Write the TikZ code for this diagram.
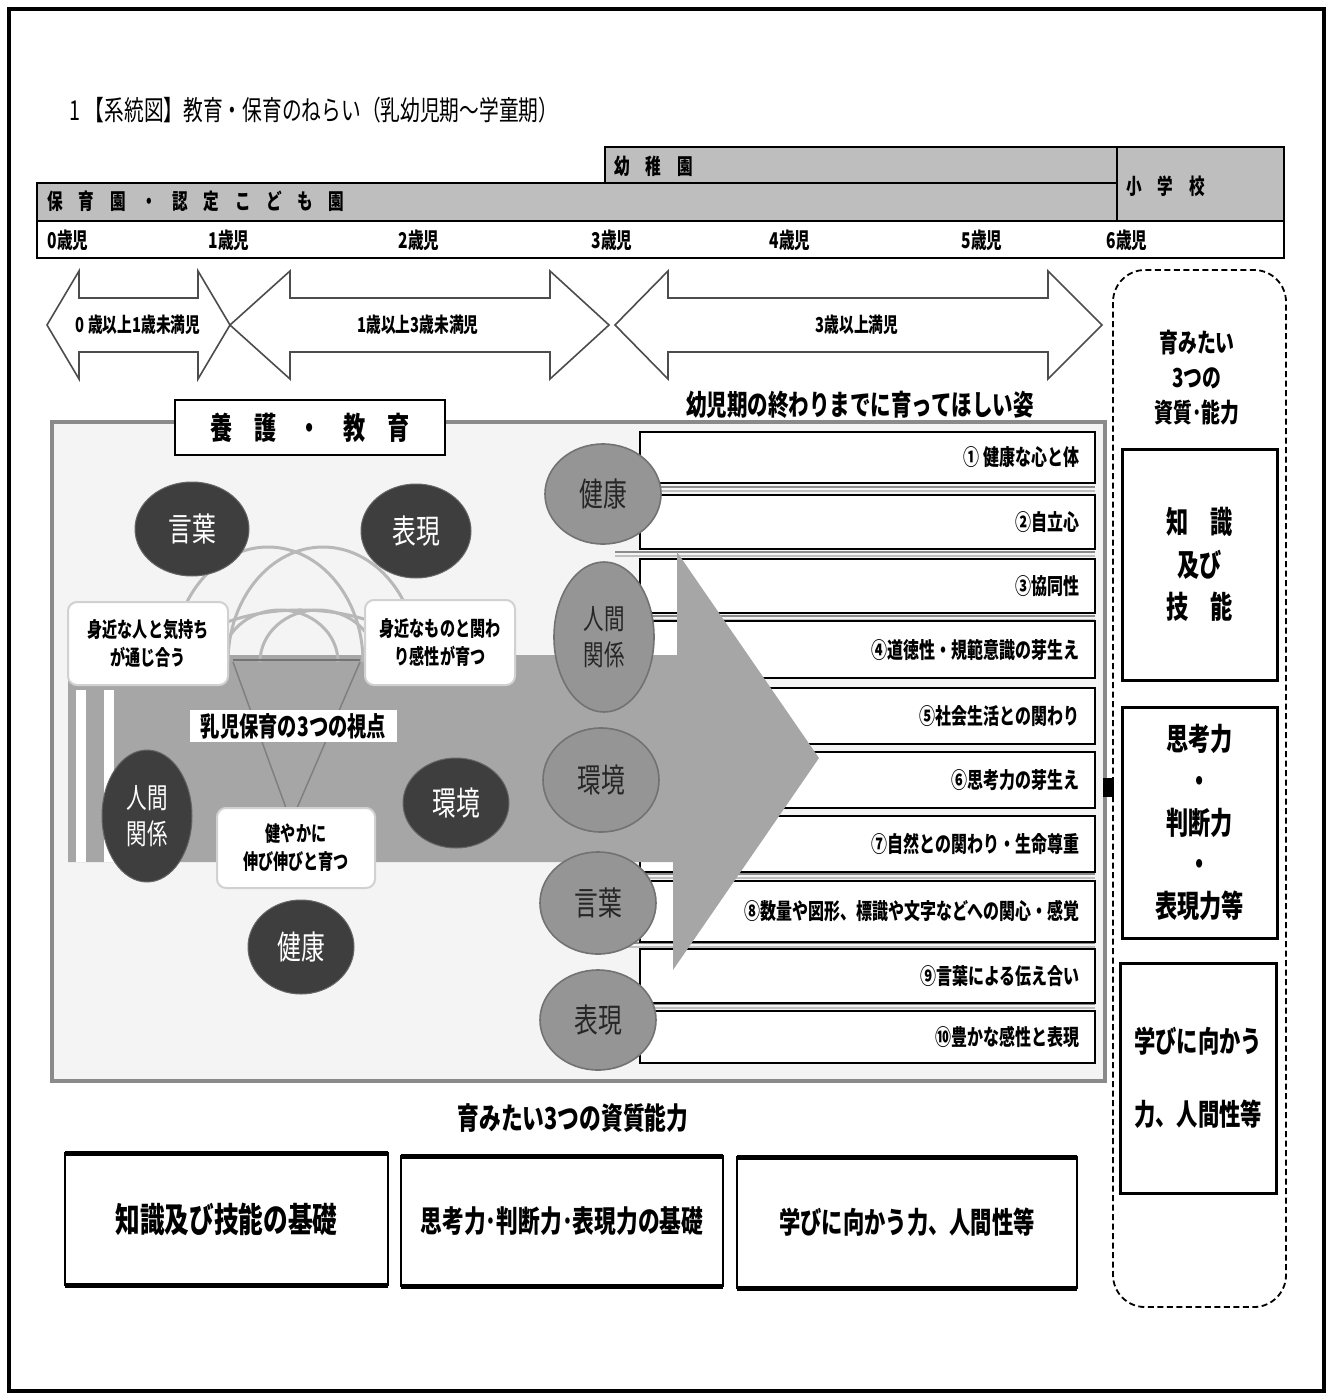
\documentclass[tikz,border=0pt]{standalone}
\usepackage{fontspec}
\newfontfamily\jp[FakeStretch=0.72]{Noto Sans CJK JP}
\newcommand\fsz[2]{\fontsize{#1}{#2}\selectfont}
\definecolor{bargray}{HTML}{BEBEBE}
\definecolor{bandgray}{HTML}{A6A6A6}
\definecolor{rcfill}{HTML}{959595}
\definecolor{rcline}{HTML}{727272}
\definecolor{lcfill}{HTML}{3E3E3E}
\definecolor{panelbg}{HTML}{F4F4F4}
\definecolor{panelline}{HTML}{8A8A8A}
\definecolor{arcgray}{HTML}{B8B8B8}
\usetikzlibrary{shapes.geometric}
\tikzset{
  barbox/.style={fill=bargray, draw=black, line width=1.8},
  dblarrow/.style={fill=white, draw=black!70, line width=1.6, line join=miter},
  listbox/.style={fill=white, draw=black, line width=2.6},
  listtxt/.style={anchor=east, font=\jp\bfseries\fsz{22.2}{25}},
  rcirc/.style={ellipse, fill=rcfill, draw=rcline, line width=1.6, inner sep=0pt, text=black!85, font=\jp\fsz{33}{36}, align=center},
  lcirc/.style={ellipse, fill=lcfill, draw=black!60, line width=1, inner sep=0pt, text=white, font=\jp\fsz{33}{36}, align=center},
  wbox/.style={fill=white, draw=black!18, line width=2, rounded corners=9, inner sep=0pt, font=\jp\bfseries\fsz{21}{28}, align=center},
  capbox/.style={fill=white, draw=black, line width=3},
  captxt/.style={font=\jp\bfseries\fsz{30.8}{42.5}, align=center},
  btmbox/.style={fill=white, draw=black, line width=2.4},
  btmtxt/.style={font=\jp\bfseries\fsz{32}{36}},
  agetxt/.style={anchor=west, font=\jp\bfseries\fsz{21.7}{24}},
  bartxt/.style={anchor=west, font=\jp\bfseries\fsz{21.7}{24}},
  arrtxt/.style={font=\jp\bfseries\fsz{20.5}{24}},
}
\begin{document}
\begin{tikzpicture}[x=1pt,y=-1pt]
\useasboundingbox (0,0) rectangle (1333,1400);
\fill[white] (0,0) rectangle (1333,1400);
\draw[line width=4] (9,9) rectangle (1324,1391);

% title
\node[anchor=west, font=\jp\fsz{27.4}{30}] (title) at (66,110) {1 【系統図】教育・保育のねらい（乳幼児期～学童期）};

% top bars
\path[barbox] (605,147) rectangle (1284,221);
\path[barbox] (37,183) rectangle (1117,221);
\draw[line width=1.8] (1117,147) -- (1117,221);
\path[fill=white, draw=black, line width=1.8] (37,221) rectangle (1284,258);
\node[bartxt] (hoiku) at (44,201) {保　育　園　・　認　定　こ　ど　も　園};
\node[bartxt] (yochi) at (611,166) {幼　稚　園};
\node[bartxt] (shou) at (1123,186) {小　学　校};
\node[agetxt] (age0) at (44,240) {0歳児};
\node[agetxt] (age1) at (205,240) {1歳児};
\node[agetxt] (age2) at (395,240) {2歳児};
\node[agetxt] (age3) at (588,240) {3歳児};
\node[agetxt] (age4) at (766,240) {4歳児};
\node[agetxt] (age5) at (958,240) {5歳児};
\node[agetxt] (age6) at (1103,240) {6歳児};

% double arrows
\path[dblarrow] (47,325) -- (79,271) -- (79,298) -- (198,298) -- (198,271) -- (230,325) -- (198,379) -- (198,352) -- (79,352) -- (79,379) -- cycle;
\node[arrtxt] (a1) at (138,325) {0 歳以上1歳未満児};
\path[dblarrow] (230,325) -- (290,271) -- (290,298) -- (550,298) -- (550,271) -- (609,325) -- (550,379) -- (550,352) -- (290,352) -- (290,379) -- cycle;
\node[arrtxt] (a2) at (418,325) {1歳以上3歳未満児};
\path[dblarrow] (615,325) -- (668,271) -- (668,298) -- (1048,298) -- (1048,271) -- (1102,325) -- (1048,379) -- (1048,352) -- (668,352) -- (668,379) -- cycle;
\node[arrtxt] (a3) at (857,325) {3歳以上満児};

% right dashed column
\draw[dash pattern=on 6pt off 3.5pt, line width=1.8, rounded corners=32] (1113,270) rectangle (1286,1307);
\node[font=\jp\bfseries\fsz{26.2}{35}, align=center] (ikumi) at (1197,378) {育みたい\\3つの\\資質･能力};
\path[capbox] (1122,449) rectangle (1277,680);
\node[captxt] (k1) at (1199.5,564.5) {知　識\\及び\\技　能};
\path[capbox] (1122,707) rectangle (1277,938);
\node[captxt, font=\jp\bfseries\fsz{30.8}{41.75}] (k2) at (1199.5,822.5) {思考力\\・\\判断力\\・\\表現力等};
\path[capbox] (1120,963) rectangle (1276,1193);
\node[captxt, font=\jp\bfseries\fsz{29.6}{73}] (k3) at (1198,1078) {学びに向かう\\力、人間性等};

% main panel
\path[fill=panelbg, draw=panelline, line width=4] (52,422) rectangle (1105,1081);
\fill (1103,778) rectangle (1114,797);

% faint guide lines between list boxes
\foreach \y in {489,554,618,876,945,1006} {
  \draw[black!45, line width=1.3] (615,\y-2) -- (1095,\y-2);
  \draw[black!25, line width=1.3] (615,\y+2) -- (1095,\y+2);
}

% list boxes
\foreach \i/\t/\b/\txt in {
 1/432/483/{① 健康な心と体}, 2/495/549/{②自立心}, 3/559/613/{③協同性},
 4/621/678/{④道徳性・規範意識の芽生え}, 5/688/744/{⑤社会生活との関わり},
 6/752/808/{⑥思考力の芽生え}, 7/816/872/{⑦自然との関わり・生命尊重},
 8/881/942/{⑧数量や図形、標識や文字などへの関心・感覚},
 9/949/1003/{⑨言葉による伝え合い}, 10/1011/1063/{⑩豊かな感性と表現}}
{
  \path[listbox] (640,\t) rectangle (1095,\b);
  \node[listtxt] (L\i) at (1083,{(\t+\b)/2}) {\txt};
}

% band with big arrow
\fill[bandgray] (68,655) -- (677,655) -- (677,552) -- (819,758) -- (673,970) -- (673,862) -- (68,862) -- cycle;
\fill[white] (76,690) rectangle (86,862);
\fill[white] (104,690) rectangle (114,862);

% arcs
\begin{scope}[arcgray, line width=3]
  \draw (173,662) arc[start angle=180, end angle=0, x radius=95pt, y radius=115pt];
  \draw (228,662) arc[start angle=180, end angle=0, x radius=95pt, y radius=115pt];
  \draw (222,662) arc[start angle=180, end angle=0, x radius=58pt, y radius=52pt];
  \draw (260,662) arc[start angle=180, end angle=0, x radius=58pt, y radius=52pt];
  \draw (300,680) ++(160:130pt and 70pt) arc[start angle=160, end angle=25, x radius=130pt, y radius=70pt];
\end{scope}
\draw[black!55, line width=2] (233,660) -- (360,660);
\draw[black!50, line width=1.5] (233,662) -- (286,808) (360,662) -- (297,808);

% white boxes
\node[wbox, minimum width=160pt, minimum height=83pt] (w1) at (148,643.5) {身近な人と気持ち\\が通じ合う};
\node[wbox, minimum width=150pt, minimum height=85pt] (w2) at (440,642.5) {身近なものと関わ\\り感性が育つ};
\node[wbox, minimum width=158pt, minimum height=80pt] (w3) at (296,848) {健やかに\\伸び伸びと育つ};
\node[fill=white, minimum width=207pt, minimum height=32pt, inner sep=0pt, font=\jp\bfseries\fsz{26.8}{28}] (view) at (293.5,726) {乳児保育の3つの視点};

% left circles
\node[lcirc, minimum width=114pt, minimum height=94pt] (lc1) at (192,529) {言葉};
\node[lcirc, minimum width=110pt, minimum height=94pt] (lc2) at (416,531) {表現};
\node[lcirc, minimum width=90pt, minimum height=132pt, font=\jp\fsz{28.5}{36}] (lc3) at (147,816) {人間\\関係};
\node[lcirc, minimum width=106pt, minimum height=90pt] (lc4) at (456,803) {環境};
\node[lcirc, minimum width=106pt, minimum height=94pt] (lc5) at (301,947) {健康};

% right circles
\node[rcirc, minimum width=116pt, minimum height=100pt] (rc1) at (603,494) {健康};
\node[rcirc, minimum width=100pt, minimum height=150pt, font=\jp\fsz{28.5}{36}] (rc2) at (604,637) {人間\\関係};
\node[rcirc, minimum width=116pt, minimum height=104pt] (rc3) at (601,780) {環境};
\node[rcirc, minimum width=116pt, minimum height=102pt] (rc4) at (598,903) {言葉};
\node[rcirc, minimum width=116pt, minimum height=100pt] (rc5) at (598,1020) {表現};

% panel label and heading
\node[fill=white, draw=black, line width=2, minimum width=270pt, minimum height=55pt, inner sep=0pt, font=\jp\bfseries\fsz{30.8}{32}] (yogo) at (310,427.5) {養　護　・　教　育};
\node[font=\jp\bfseries\fsz{28.5}{30}] (sugata) at (860,405) {幼児期の終わりまでに育ってほしい姿};

% bottom
\node[font=\jp\bfseries\fsz{30.2}{32}] (ikumi2) at (573,1118) {育みたい3つの資質能力};
\path[btmbox] (65,1153) rectangle (388,1285);
\draw[line width=5] (65,1153) -- (388,1153) (65,1285) -- (388,1285);
\node[btmtxt, font=\jp\bfseries\fsz{34.2}{36}] (b1) at (226.5,1219) {知識及び技能の基礎};
\path[btmbox] (401,1156) rectangle (723,1286);
\draw[line width=5] (401,1156) -- (723,1156) (401,1286) -- (723,1286);
\node[btmtxt, font=\jp\bfseries\fsz{30.2}{32}] (b2) at (562,1221) {思考力･判断力･表現力の基礎};
\path[btmbox] (737,1157) rectangle (1077,1288);
\draw[line width=5] (737,1157) -- (1077,1157) (737,1288) -- (1077,1288);
\node[btmtxt, font=\jp\bfseries\fsz{29.6}{32}] (b3) at (907,1222) {学びに向かう力、人間性等};
\end{tikzpicture}
\end{document}
